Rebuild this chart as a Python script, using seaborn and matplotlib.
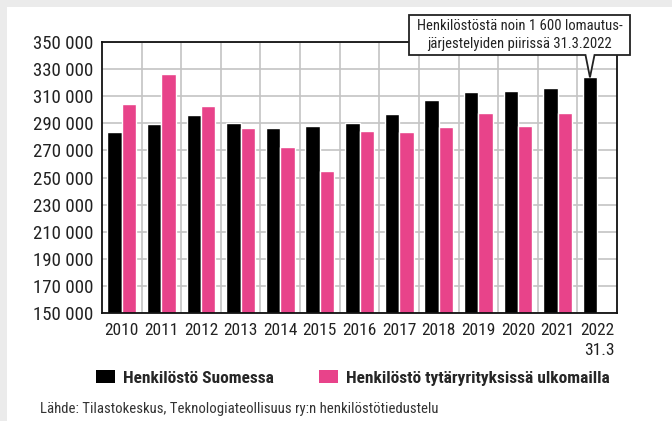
import numpy as np
import pandas as pd
import matplotlib
matplotlib.use("Agg")
import matplotlib.pyplot as plt
from matplotlib.patches import Polygon, Rectangle, Patch
from matplotlib.ticker import FuncFormatter
from matplotlib import font_manager as fm
import seaborn as sns

years = ["2010", "2011", "2012", "2013", "2014", "2015", "2016",
         "2017", "2018", "2019", "2020", "2021", "2022\n31.3"]
suomessa = [283700, 289700, 296100, 290100, 286500, 287700, 289900,
            296900, 307200, 313100, 313600, 315800, 323900]
ulkomailla = [303900, 326600, 302500, 286700, 272700, 254700, 284500,
              283300, 287300, 297400, 288000, 297800, np.nan]
series_names = ["Henkilöstö Suomessa", "Henkilöstö tytäryrityksissä ulkomailla"]
colors = ["#000000", "#E8438A"]
yticks = list(range(150000, 350001, 20000))
note = "Henkilöstöstä noin 1 600 lomautus-\njärjestelyiden piirissä 31.3.2022"
source = "Lähde: Tilastokeskus, Teknologiateollisuus ry:n henkilöstötiedustelu"

df = pd.DataFrame({
    "vuosi": years * 2,
    "arvo": suomessa + ulkomailla,
    "sarja": [series_names[0]] * len(years) + [series_names[1]] * len(years),
})

sns.set_style("white")
names = {f.name for f in fm.fontManager.ttflist}
fam = []
for n in ["Roboto Condensed", "Liberation Sans Narrow", "DejaVu Sans Condensed"]:
    if n in names:
        fam.append(n)
plt.rcParams["font.family"] = fam + ["DejaVu Sans"]
if not fam:
    plt.rcParams["font.stretch"] = "condensed"

W, H = 672, 421
fig = plt.figure(figsize=(W / 100, H / 100), dpi=100, facecolor="#EBEBEB")
fig.patches.append(Rectangle((7 / W, 0), 1, 1 - 7 / H, transform=fig.transFigure,
                             facecolor="white", edgecolor="none", zorder=-10))
ax = fig.add_axes([102 / W, 1 - 313 / H, (617 - 102) / W, (313 - 42) / H])

sns.barplot(data=df, x="vuosi", y="arvo", hue="sarja", palette=colors,
            width=0.73, ax=ax, saturation=1, legend=False, errorbar=None, zorder=2)

ax.set_ylim(150000, 350000)
ax.set_xlim(-0.5, len(years) - 0.5)
ax.set_yticks(yticks)
ax.yaxis.set_major_formatter(FuncFormatter(lambda v, p: f"{int(v):,}".replace(",", " ")))
ax.grid(False)
ax.yaxis.grid(True, color="#C4C4C4", linewidth=1.2, zorder=0)
for xb in np.arange(0.5, len(years) - 1, 1):
    ax.axvline(xb, color="#C4C4C4", linewidth=1.2, zorder=0.5)
ax.set_axisbelow(True)
ax.set_xlabel("")
ax.set_ylabel("")
for s in ax.spines.values():
    s.set_color("#111111")
    s.set_linewidth(1.3)
    s.set_visible(True)
    s.set_zorder(3)
ax.tick_params(axis="both", which="both", length=0, colors="#222222")
ax.tick_params(axis="y", pad=6, labelsize=13.6)
ax.tick_params(axis="x", pad=7, labelsize=12.5)
for lbl in ax.get_xticklabels():
    lbl.set_multialignment("right")
    lbl.set_linespacing(1.45)

handles = [Patch(facecolor=c, edgecolor="none") for c in colors]
fig.legend(handles, series_names, loc="center", bbox_to_anchor=(353 / W, 1 - 378 / H),
           ncol=2, frameon=False, handlelength=1.1, handleheight=0.75, handletextpad=0.45,
           columnspacing=2.6, prop={"weight": "bold", "size": 12.5})

tip_data = (len(years) - 1 - 0.73 / 4, suomessa[-1])
tip_fig = fig.transFigure.inverted().transform(ax.transData.transform(tip_data))
x0, x1 = 409 / W, 630 / W
yt, yb = 1 - 15 / H, 1 - 55 / H
bl, br = 585.5 / W, 594.5 / W
poly = Polygon([(x0, yt), (x1, yt), (x1, yb), (br, yb), tuple(tip_fig), (bl, yb), (x0, yb)],
               closed=True, transform=fig.transFigure, facecolor="white",
               edgecolor="#222222", linewidth=1.3, zorder=5)
fig.patches.append(poly)
fig.text((x0 + x1) / 2, (yt + yb) / 2, note, ha="center", va="center",
         multialignment="center", fontsize=10.5, color="#222222", linespacing=1.35, zorder=6)

fig.text(40 / W, 1 - 409 / H, source, ha="left", va="center", fontsize=10.6, color="#333333")

fig.savefig("out.png", dpi=100, facecolor=fig.get_facecolor())
